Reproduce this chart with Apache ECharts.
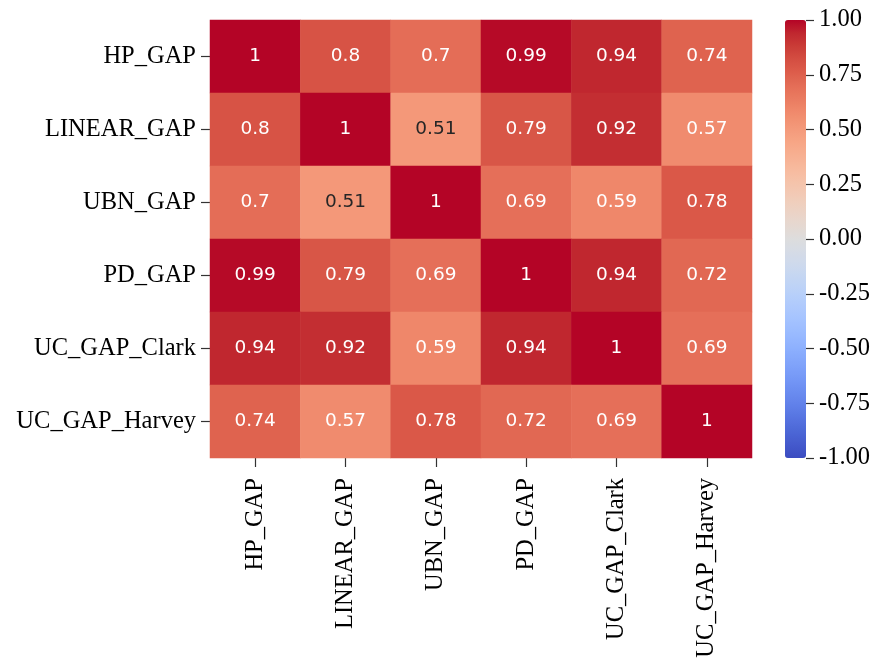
<!DOCTYPE html>
<html>
<head>
<meta charset="utf-8">
<script src="https://cdn.jsdelivr.net/npm/echarts@6/dist/echarts.min.js"></script>
<style>
  html, body { margin: 0; padding: 0; background: #ffffff; }
  #chart { width: 882px; height: 663px; }
</style>
</head>
<body>
<div id="chart"></div>
<script>
// Correlation matrix of output-gap estimates
const variables = ['HP_GAP', 'LINEAR_GAP', 'UBN_GAP', 'PD_GAP', 'UC_GAP_Clark', 'UC_GAP_Harvey'];

const rowHP      = [1,    0.8,  0.7,  0.99, 0.94, 0.74];
const rowLinear  = [0.8,  1,    0.51, 0.79, 0.92, 0.57];
const rowUBN     = [0.7,  0.51, 1,    0.69, 0.59, 0.78];
const rowPD      = [0.99, 0.79, 0.69, 1,    0.94, 0.72];
const rowClark   = [0.94, 0.92, 0.59, 0.94, 1,    0.69];
const rowHarvey  = [0.74, 0.57, 0.78, 0.72, 0.69, 1];

const colorbarMin = -1;
const colorbarMax = 1;
const colorbarStep = 0.25;

// Diverging "coolwarm" palette, evenly spaced from -1 to 1
const coolwarm = [
  [59,76,192],[68,90,204],[77,104,215],[87,117,225],[98,130,234],[108,142,241],
  [119,154,247],[130,165,251],[141,176,254],[152,185,255],[163,194,255],[174,201,253],
  [184,208,249],[194,213,244],[204,217,238],[213,219,230],[221,221,221],[229,216,209],
  [236,211,197],[241,204,184],[245,196,172],[247,187,159],[247,177,147],[247,166,134],
  [244,154,123],[241,141,111],[236,127,99],[229,112,89],[222,96,77],[213,80,67],
  [203,62,56],[192,40,47],[180,4,38]
].map(c => 'rgb(' + c.join(',') + ')');

const matrix = [rowHP, rowLinear, rowUBN, rowPD, rowClark, rowHarvey];
const cells = [];
matrix.forEach((row, r) => {
  row.forEach((v, c) => {
    cells.push({
      value: [c, r, v],
      label: { color: v < 0.55 ? '#262626' : '#ffffff' }
    });
  });
});

const serif = 'Liberation Serif, Times New Roman, serif';
const plot = { left: 210, top: 20, width: 542, height: 438 };
const bar = { left: 785, top: 20, width: 21, height: 438 };
const tickStyle = { color: '#333333', width: 1.2 };

const chart = echarts.init(document.getElementById('chart'), null, { renderer: 'canvas' });
chart.setOption({
  backgroundColor: '#ffffff',
  animation: false,
  grid: [
    { left: plot.left, top: plot.top, width: plot.width, height: plot.height },
    { left: bar.left, top: bar.top, width: bar.width, height: bar.height }
  ],
  xAxis: [
    {
      type: 'category', gridIndex: 0, data: variables, position: 'bottom',
      axisLine: { show: false },
      axisTick: { show: true, alignWithLabel: true, length: 9, lineStyle: tickStyle },
      axisLabel: { rotate: 90, margin: 20, fontFamily: serif, fontSize: 24.5, color: '#000000', interval: 0 },
      splitLine: { show: false }
    },
    {
      type: 'category', gridIndex: 1, show: false, data: ['']
    }
  ],
  yAxis: [
    {
      type: 'category', gridIndex: 0, data: variables, inverse: true,
      axisLine: { show: false },
      axisTick: { show: true, alignWithLabel: true, length: 9, lineStyle: tickStyle },
      axisLabel: { margin: 14, fontFamily: serif, fontSize: 24.5, color: '#000000', interval: 0 },
      splitLine: { show: false }
    },
    {
      type: 'value', gridIndex: 1, position: 'right',
      min: colorbarMin, max: colorbarMax, interval: colorbarStep,
      axisLine: { show: false, onZero: false },
      axisTick: { show: true, length: 8, lineStyle: tickStyle },
      axisLabel: {
        margin: 13, fontFamily: serif, fontSize: 24.5, color: '#000000',
        formatter: v => v.toFixed(2)
      },
      splitLine: { show: false }
    }
  ],
  visualMap: {
    type: 'continuous',
    min: colorbarMin, max: colorbarMax,
    seriesIndex: 0,
    calculable: false,
    orient: 'vertical',
    left: bar.left, top: bar.top,
    itemWidth: bar.width, itemHeight: bar.height,
    padding: 0,
    text: null,
    showLabel: false,
    hoverLink: false,
    inRange: { color: coolwarm }
  },
  series: [
    {
      type: 'heatmap',
      xAxisIndex: 0, yAxisIndex: 0,
      data: cells,
      label: {
        show: true,
        fontFamily: 'DejaVu Sans, sans-serif',
        fontSize: 18.5,
        formatter: p => String(p.value[2])
      },
      itemStyle: { borderWidth: 0 },
      emphasis: { disabled: true }
    }
  ]
});
</script>
</body>
</html>
